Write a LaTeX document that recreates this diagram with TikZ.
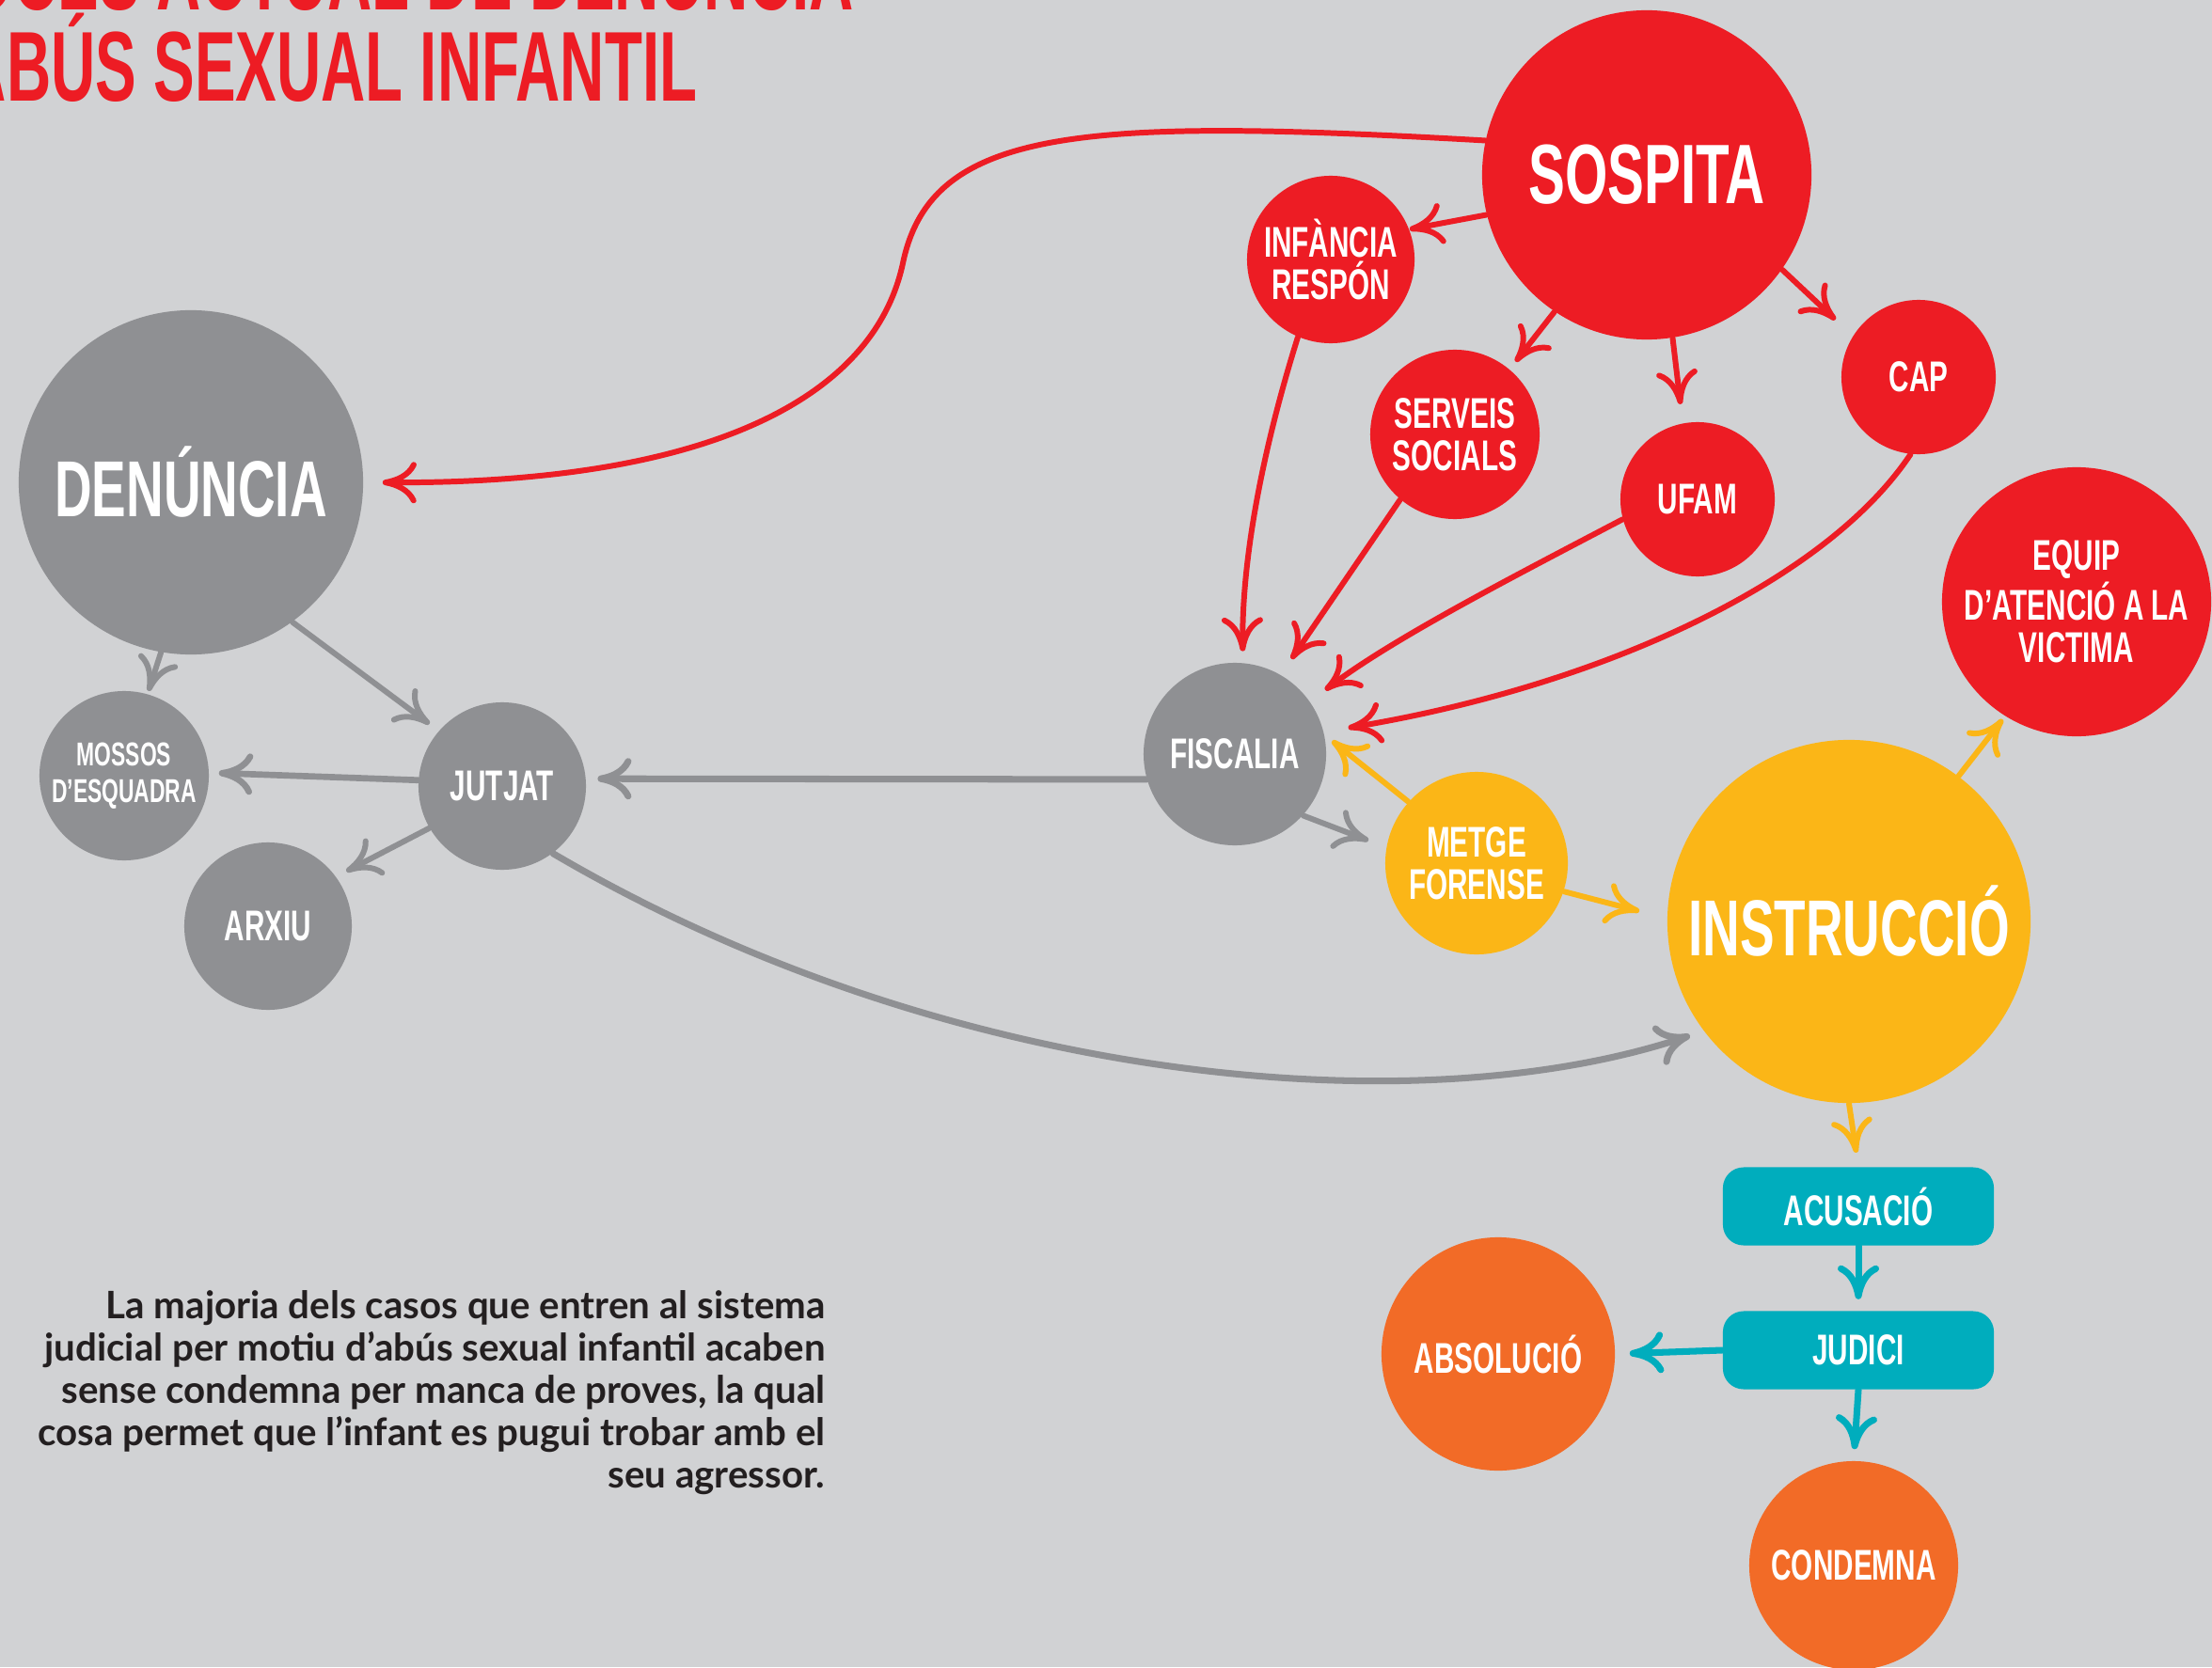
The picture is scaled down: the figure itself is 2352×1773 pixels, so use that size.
\documentclass[tikz,border=0pt]{standalone}
\usepackage{fontspec}
\newfontfamily\cond{Liberation Sans}[FakeStretch=0.65]
\newfontfamily\titlefont{Liberation Sans}[FakeStretch=0.62]
\newfontfamily\bodyfont{Lato}
\usetikzlibrary{arrows.meta}
\definecolor{bg}{HTML}{D1D2D4}
\definecolor{cred}{HTML}{ED1C24}
\definecolor{cgray}{HTML}{8F9093}
\definecolor{cyel}{HTML}{FBB617}
\definecolor{cteal}{HTML}{00ADBD}
\definecolor{corange}{HTML}{F26B27}
\definecolor{ctext}{HTML}{231F20}
\tikzset{
  bub/.style={circle, inner sep=0pt, text=white, align=center,
    font=\cond\bfseries\fontsize{13}{12.8}\selectfont},
  bigtxt/.style={font=\cond\bfseries\fontsize{24}{28}\selectfont},
  hugetxt/.style={font=\cond\bfseries\fontsize{25.5}{30}\selectfont},
  smalltxt/.style={font=\cond\bfseries\fontsize{10}{11.1}\selectfont},
  boxnode/.style={rectangle, rounded corners=0.22cm, fill=cteal, text=white,
    minimum width=2.88cm, minimum height=0.83cm, inner sep=0pt,
    font=\cond\bfseries\fontsize{13}{12.8}\selectfont},
  conn/.style={line width=1.7pt, line cap=round,
    -{Computer Modern Rightarrow[length=3.6mm,width=4.4mm]}},
}
\begin{document}
\begin{tikzpicture}[x=0.01cm, y=-0.01cm]
\path[use as bounding box] (0,0) rectangle (2352,1773);
\clip (0,0) rectangle (2352,1773);
\fill[bg] (0,0) rectangle (2352,1773);

% title
\node[anchor=base east, inner sep=0pt, text=cred,
  font=\titlefont\bfseries\fontsize{30}{30}\selectfont] (title1) at (909,11) {PROCÉS ACTUAL DE DENÚNCIA};
\node[anchor=base east, inner sep=0pt, text=cred,
  font=\titlefont\bfseries\fontsize{30}{30}\selectfont] (title2) at (742,108) {D’ABÚS SEXUAL INFANTIL};

% red nodes
\node[bub, hugetxt, fill=cred, minimum size=3.5cm] (sospita) at (1751,186) {SOSPITA};
\node[bub, fill=cred, minimum size=1.78cm] (infancia) at (1415,276) {INFÀNCIA\\RESPÓN};
\node[bub, fill=cred, minimum size=1.80cm] (serveis) at (1547,462) {SERVEIS\\SOCIALS};
\node[bub, fill=cred, minimum size=1.64cm] (ufam) at (1805,531) {UFAM};
\node[bub, fill=cred, minimum size=1.64cm] (cap) at (2040,401) {CAP};
\node[bub, fill=cred, minimum size=2.86cm] (equip) at (2208,640) {EQUIP\\D’ATENCIÓ A LA\\VICTIMA};

% gray nodes
\node[bub, bigtxt, fill=cgray, minimum size=3.66cm] (denuncia) at (203,513) {DENÚNCIA};
\node[bub, smalltxt, fill=cgray, minimum size=1.80cm] (mossos) at (132,825) {MOSSOS\\D’ESQUADRA};
\node[bub, fill=cgray, minimum size=1.78cm] (jutjat) at (534,836) {JUTJAT};
\node[bub, fill=cgray, minimum size=1.78cm] (arxiu) at (285,985) {ARXIU};
\node[bub, fill=cgray, minimum size=1.94cm] (fiscalia) at (1313,802) {FISCALIA};

% yellow nodes
\node[bub, fill=cyel, minimum size=1.94cm] (metge) at (1570,918) {METGE\\FORENSE};
\node[bub, bigtxt, fill=cyel, minimum size=3.86cm] (instruccio) at (1966,980) {INSTRUCCIÓ};

% teal boxes
\node[boxnode] (acusacio) at (1976,1283) {ACUSACIÓ};
\node[boxnode] (judici) at (1976,1436) {JUDICI};

% orange nodes
\node[bub, fill=corange, minimum size=2.48cm] (absolucio) at (1593,1440) {ABSOLUCIÓ};
\node[bub, fill=corange, minimum size=2.22cm] (condemna) at (1971,1665) {CONDEMNA};

% red connectors
\draw[conn, cred, shorten >=0.2cm] (sospita.168) .. controls (1150,125) and (990,135) .. (960,280)
  .. controls (930,420) and (760,515) .. (denuncia.east);
\draw[conn, cred] (sospita.194) -- (infancia.21);
\draw[conn, cred, shorten >=0.1cm] (sospita.236) -- (serveis.50);
\draw[conn, cred, shorten >=0.2cm] (sospita.279) -- (ufam.101);
\draw[conn, cred, shorten >=0.25cm] (sospita.325) -- (cap.148);
\draw[conn, cred, shorten >=0.12cm] (infancia.247) .. controls (1345,470) and (1320,590) .. (fiscalia.85);
\draw[conn, cred, shorten >=0.2cm] (serveis.230) -- (fiscalia.60);
\draw[conn, cred, shorten >=0.2cm] (ufam.195) .. controls (1600,618) and (1480,680) .. (fiscalia.35);
\draw[conn, cred, shorten >=0.26cm] (cap.264) .. controls (1940,620) and (1700,730) .. (fiscalia.14);

% gray connectors
\draw[conn, cgray, line width=2pt, shorten >=0.12cm] (fiscalia.196) -- (jutjat.5);
\draw[conn, cgray, shorten >=0.2cm] (fiscalia.318) -- (metge.170);
\draw[conn, cgray, line width=2pt, shorten >=0.15cm] (jutjat.307) .. controls (1000,1150) and (1500,1200) .. (instruccio.217);
\draw[conn, cgray, line width=1.9pt, shorten >=0.1cm] (jutjat.176) -- (mossos.2);
\draw[conn, cgray, shorten >=0.12cm] (jutjat.210) -- (arxiu.36);
\draw[conn, cgray, shorten >=0.03cm] (denuncia.260) -- (mossos.74);
\draw[conn, cgray, shorten >=0.12cm] (denuncia.306) -- (jutjat.139);

% yellow connectors
\draw[conn, cyel, shorten >=0.1cm] (metge.138) -- (fiscalia.12);
\draw[conn, cyel, shorten >=0.3cm] (metge.342) -- (instruccio.179);
\draw[conn, cyel, shorten >=0.04cm] (instruccio.53) -- (equip.238);
\draw[conn, cyel, shorten >=0.15cm] (instruccio.south) -- (acusacio.north);

% teal connectors
\draw[conn, cteal, line width=2pt, shorten >=0.12cm] (acusacio.south) -- (judici.north);
\draw[conn, cteal, line width=2pt, shorten >=0.15cm] (judici.west) -- (absolucio.east);
\draw[conn, cteal, line width=2pt, shorten >=0.12cm] (judici.south) -- (condemna.north);

% note text
\node[anchor=north east, align=right, inner sep=0pt, text=ctext,
  font=\bodyfont\bfseries\fontsize{11.45}{12.8}\selectfont] (note) at (878,1372)
  {La majoria dels casos que entren al sistema\\
   judicial per motiu d’abús sexual infantil acaben\\
   sense condemna per manca de proves, la qual\\
   cosa permet que l’infant es pugui trobar amb el\\
   seu agressor.};
\end{tikzpicture}
\end{document}
